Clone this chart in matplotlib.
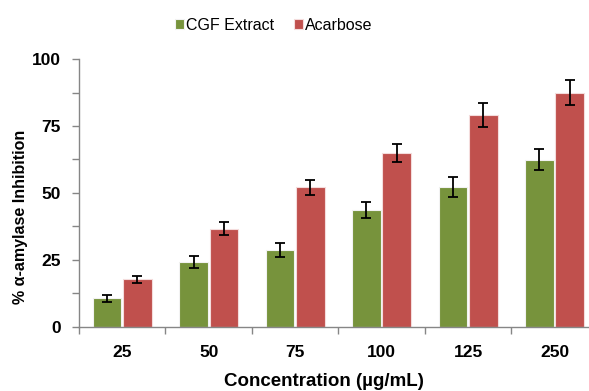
import numpy as np
import matplotlib.pyplot as plt

plt.rcParams['font.family'] = ['Liberation Sans', 'DejaVu Sans']

concentrations = ['25', '50', '75', '100', '125', '250']
cgf_values = [10.6, 24.1, 28.7, 43.7, 52.2, 62.4]
cgf_errors = [1.4, 2.2, 2.5, 3.1, 3.8, 4.0]
acarbose_values = [17.8, 36.7, 52.2, 64.8, 79.0, 87.5]
acarbose_errors = [1.3, 2.5, 2.8, 3.3, 4.5, 4.5]

green = '#77933C'
red = '#C0504D'

fig = plt.figure(figsize=(5.89, 3.91), dpi=100)
ax = fig.add_axes([0.134, 0.164, 0.881, 0.685])

x = np.arange(len(concentrations))
w = 0.33
err_kw = dict(ecolor='black', elinewidth=1.3, capsize=3.4, capthick=1.3)
ax.bar(x - 0.175, cgf_values, w, yerr=cgf_errors, color=green,
       edgecolor='#f2f2f2', linewidth=0.8, label='CGF Extract', error_kw=err_kw)
ax.bar(x + 0.175, acarbose_values, w, yerr=acarbose_errors, color=red,
       edgecolor='#f4dcdc', linewidth=0.8, label='Acarbose', error_kw=err_kw)

ax.set_xlim(-0.5, len(concentrations) - 0.5)
ax.set_ylim(0, 100)
ax.set_yticks([0, 25, 50, 75, 100])
ax.set_yticks(np.arange(12.5, 100, 25), minor=True)
ax.set_xticks(x)
ax.set_xticklabels(concentrations)
ax.set_xticks(np.arange(-0.5, len(concentrations)), minor=True)

for s in ['top', 'right']:
    ax.spines[s].set_visible(False)
for s in ['left', 'bottom']:
    ax.spines[s].set_color('#868686')
    ax.spines[s].set_linewidth(1.0)

ax.tick_params(axis='y', which='both', length=5, color='#868686', width=1.0)
ax.tick_params(axis='y', which='major', labelsize=12.5, pad=8)
ax.tick_params(axis='x', which='major', length=0, labelsize=12.5, pad=13)
ax.tick_params(axis='x', which='minor', length=5, color='#868686', width=1.0)
for lab in ax.get_xticklabels() + ax.get_yticklabels():
    lab.set_fontweight('bold')

ax.set_ylabel('% α-amylase Inhibition', fontsize=11.5, fontweight='bold',
              va='center', ha='center')
ax.yaxis.set_label_coords(-0.113, 0.41)
fig.text(0.55, 0.013, 'Concentration (µg/mL)', fontsize=13.5, fontweight='bold',
         ha='center', va='baseline')

fig.legend(loc='center', bbox_to_anchor=(0.465, 0.935), ncol=2, frameon=False,
           fontsize=11.5, handlelength=0.55, handleheight=0.55, handletextpad=0.15,
           columnspacing=1.2)

fig.savefig('out.png', dpi=100)
